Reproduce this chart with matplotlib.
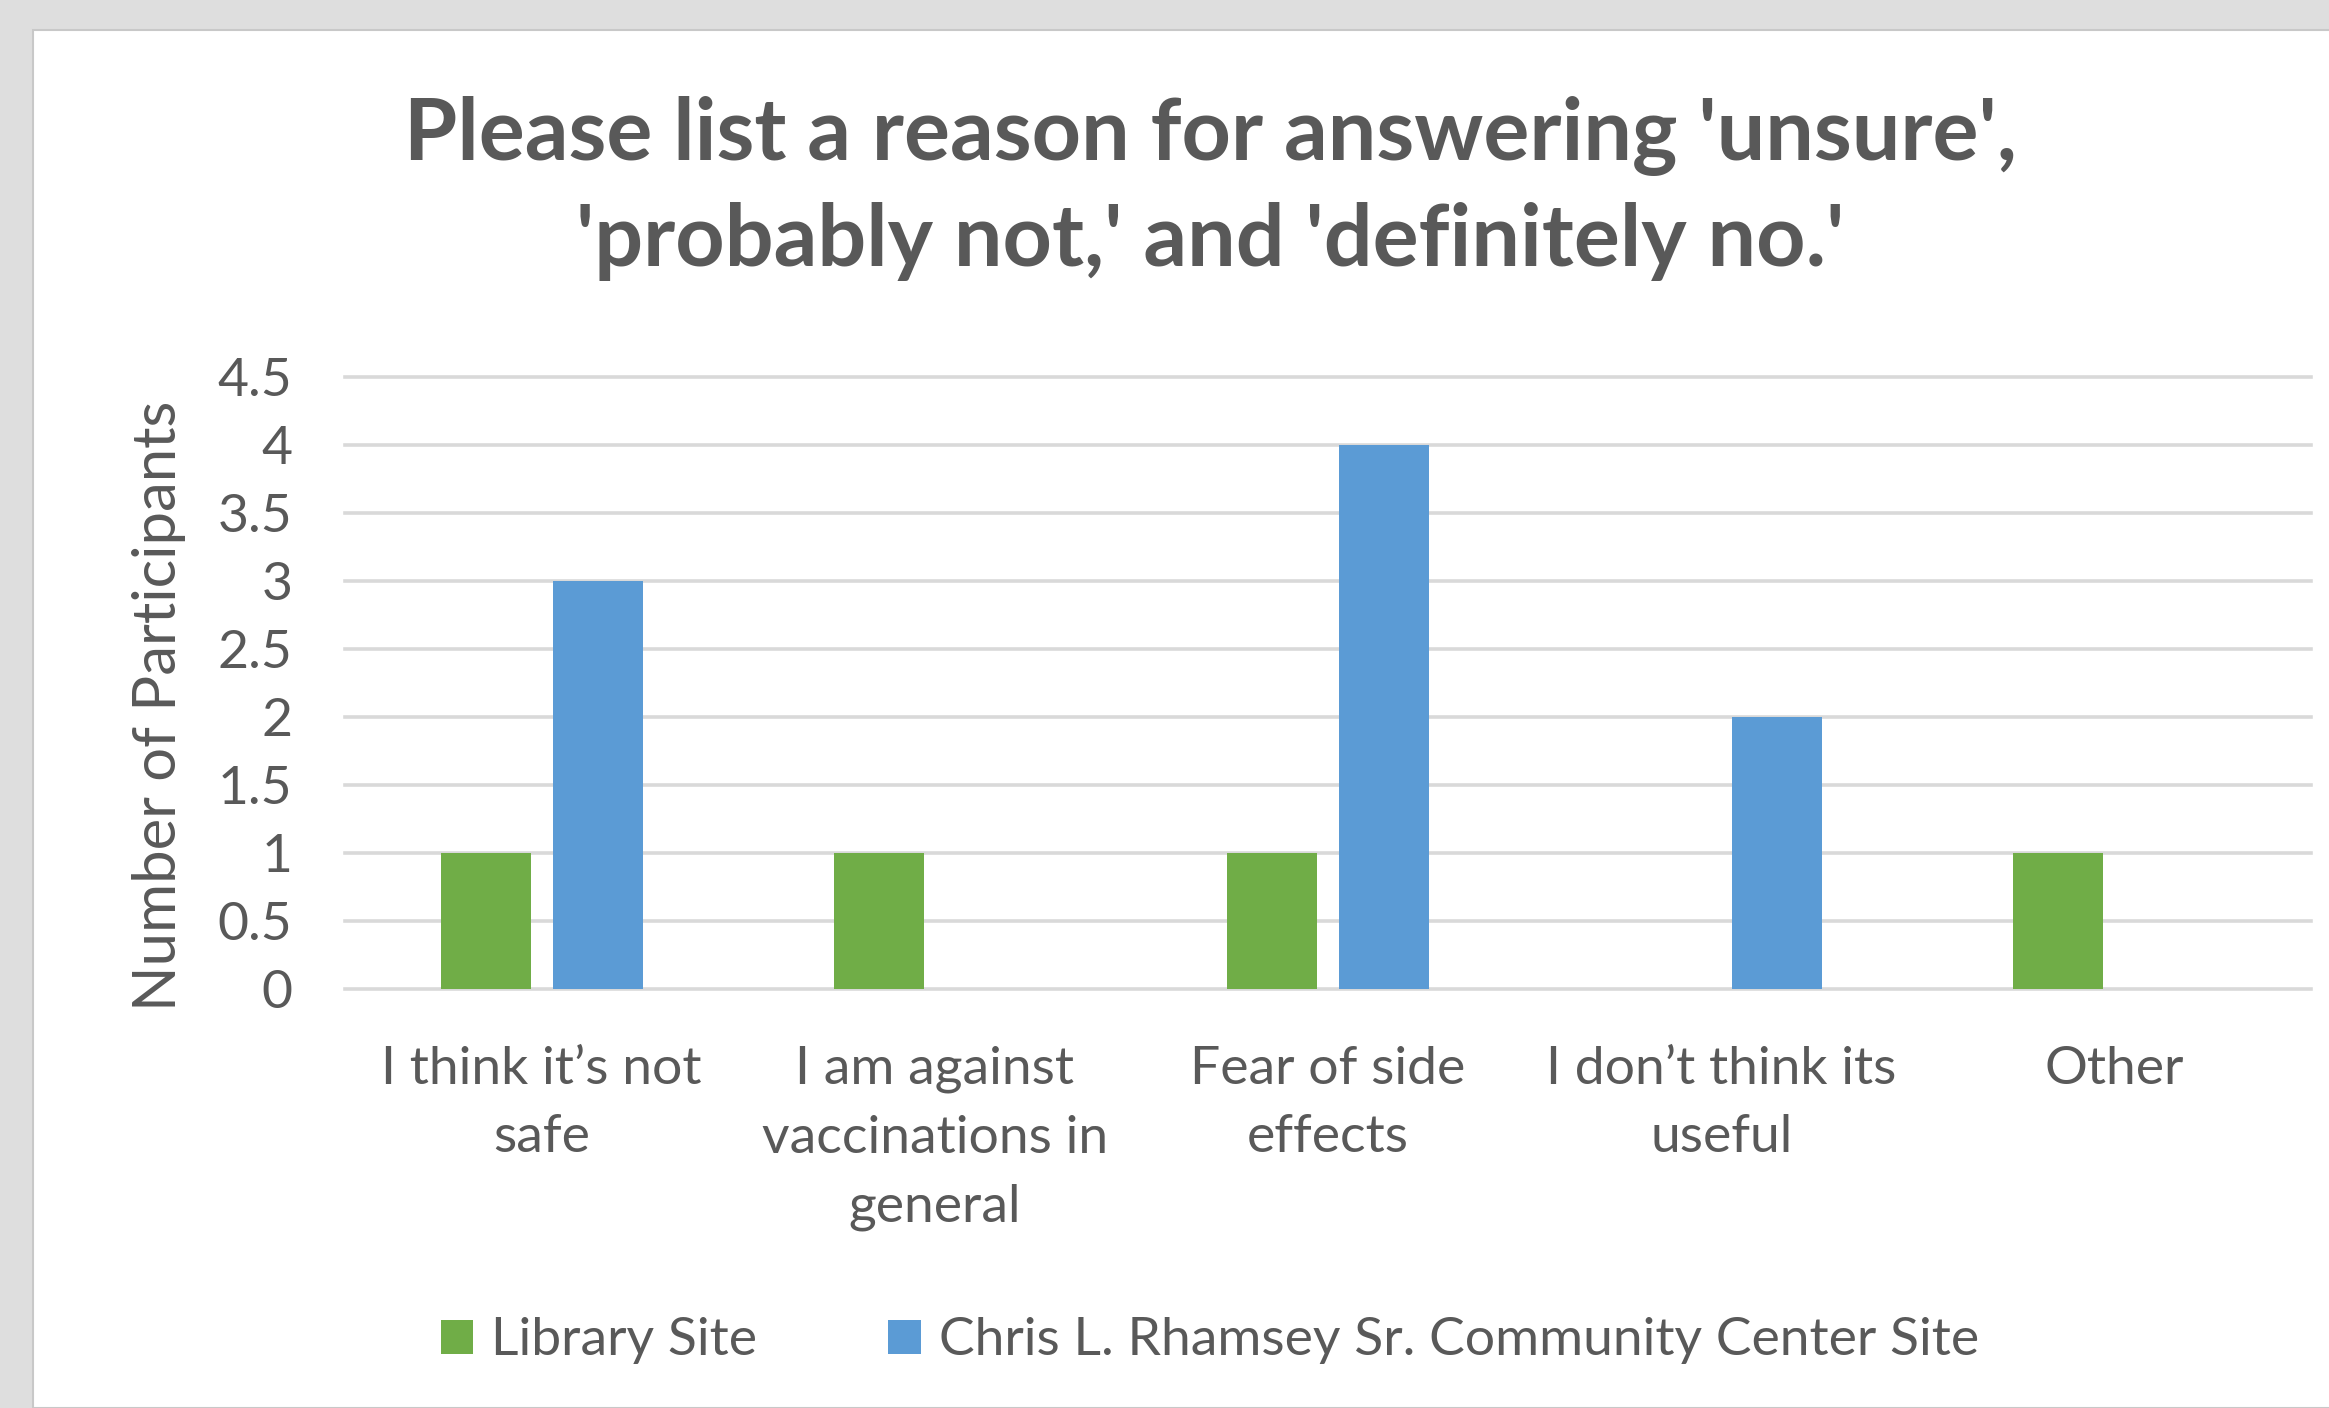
import matplotlib
matplotlib.use('Agg')
import matplotlib.pyplot as plt
from matplotlib.patches import Rectangle, Patch
from matplotlib.ticker import FuncFormatter
import numpy as np

categories = ['I think it\u2019s not\nsafe', 'I am against\nvaccinations in\ngeneral',
              'Fear of side\neffects', 'I don\u2019t think its\nuseful', 'Other']
seriesNames = ['Library Site', 'Chris L. Rhamsey Sr. Community Center Site']
libraryVals = [1, 1, 1, 0, 1]
communityVals = [3, 0, 4, 2, 0]
yTicks = [0, 0.5, 1, 1.5, 2, 2.5, 3, 3.5, 4, 4.5]
titleText = "Please list a reason for answering 'unsure',\n'probably not,' and 'definitely no.'"
yLabel = 'Number of Participants'

textCol = '#595959'
gridCol = '#D9D9D9'
colors = ['#70AD47', '#5B9BD5']

plt.rcParams['font.family'] = ['Lato', 'DejaVu Sans']

W, H = 2329, 1408
fig = plt.figure(figsize=(W / 100, H / 100), dpi=100)
fig.patch.set_facecolor('#DEDEDE')
# white chart area behind everything
fig.patches.append(Rectangle((33 / W, 0), 1, 1 - 30 / H, transform=fig.transFigure,
                             facecolor='white', edgecolor='#C8C8C8', linewidth=1.5, zorder=-10))

ax = fig.add_axes([345 / W, 1 - 989 / H, (2311 - 345) / W, (989 - 377) / H])
ax.set_facecolor('none')

x = np.arange(len(categories))
bw = 0.229
off = bw / 2 + 0.028
ax.bar(x - off, libraryVals, bw, color=colors[0], label=seriesNames[0])
ax.bar(x + off, communityVals, bw, color=colors[1], label=seriesNames[1])

ax.set_xlim(-0.5, len(categories) - 0.5)
ax.set_ylim(0, 4.5)
ax.set_yticks(yTicks)
ax.yaxis.set_major_formatter(FuncFormatter(lambda v, p: '{:g}'.format(v)))
ax.set_xticks(x)
ax.set_xticklabels(categories, linespacing=1.56)
ax.tick_params(axis='both', length=0, labelsize=38.5, colors=textCol)
ax.tick_params(axis='y', pad=38)
ax.tick_params(axis='x', pad=41)
ax.set_axisbelow(True)
ax.grid(axis='y', color=gridCol, linewidth=2.6)
for ln in ax.get_ygridlines():
	ln.set_clip_on(False)
for s in ax.spines.values():
	s.set_visible(False)

fig.text(1210 / W, 1 - 188.5 / H, titleText, ha='center', va='center', fontsize=62,
         fontweight='bold', color=textCol, linespacing=1.4)
fig.text(159 / W, 1 - 706 / H, yLabel, rotation=90, ha='center', va='center',
         fontsize=43, color=textCol)

handles = [Patch(facecolor=c) for c in colors]
fig.legend(handles, seriesNames, loc='center', bbox_to_anchor=(1210 / W, 1 - 1341 / H),
           ncol=2, frameon=False, fontsize=38.5, handlelength=0.6, handleheight=0.6,
           handletextpad=0.34, columnspacing=2.45, labelcolor=textCol)

fig.savefig('out.png', dpi=100)
